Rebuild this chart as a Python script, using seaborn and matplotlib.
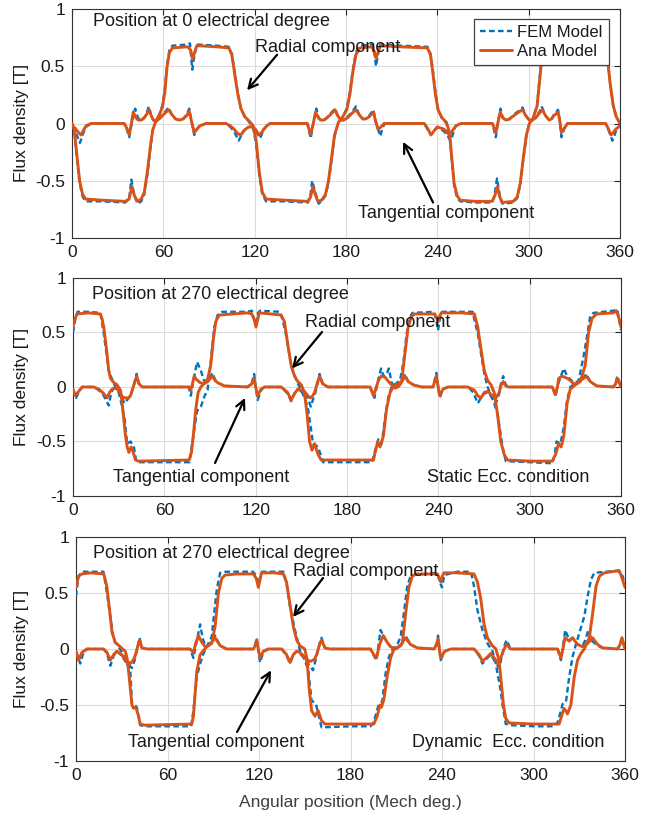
import matplotlib
matplotlib.use("Agg")
import matplotlib.pyplot as plt
from matplotlib.lines import Line2D
import seaborn as sns

# ---------------- data : (angle deg, flux density T) ----------------
# Panel 1 : Position at 0 electrical degree
p1_ana_rad = [(0,0.0),(1.5,-0.05),(3,-0.25),(5,-0.5),(7,-0.62),(9,-0.66),(20,-0.67),(35,-0.68),(37.5,-0.66),(39.4,-0.55),(41,-0.63),(43,-0.68),(45.5,-0.66),(47.5,-0.6),(49.5,-0.42),(51.5,-0.2),(53,-0.06),(55,0.02),(57.5,0.08),(59.5,0.15),(61,0.28),(62.5,0.5),(64,0.62),(66,0.66),(76,0.67),(78,0.64),(79.2,0.56),(80.5,0.62),(82,0.68),(95,0.67),(103,0.66),(105,0.6),(107,0.42),(109,0.25),(111,0.13),(113.5,0.06),(116.5,0.02),(119,-0.02),(121,-0.15),(123,-0.42),(125,-0.6),(127.5,-0.66),(140,-0.67),(155,-0.68),(156.8,-0.64),(158.2,-0.55),(159.8,-0.62),(161.5,-0.68),(164,-0.67),(166.5,-0.62),(168.5,-0.5),(170.5,-0.3),(172.5,-0.1),(175,0.01),(177.5,0.05),(180.5,0.12),(182.5,0.25),(184.5,0.45),(186.5,0.6),(189,0.66),(197,0.67),(198.5,0.63),(199.7,0.57),(201,0.62),(202.5,0.68),(215,0.67),(233.5,0.66),(235.5,0.6),(237,0.45),(238.8,0.25),(240.5,0.12),(243,0.05),(246,0.01),(248,-0.08),(249.5,-0.3),(251,-0.52),(253,-0.63),(255,-0.67),(265,-0.68),(276,-0.68),(277.8,-0.63),(279.5,-0.55),(281,-0.64),(282.5,-0.69),(290,-0.68),(292.5,-0.64),(294.5,-0.52),(296.5,-0.3),(298.5,-0.1),(300.5,0.0),(303,0.05),(305.5,0.15),(307,0.35),(308.5,0.55),(310.5,0.65),(313,0.67),(317,0.67),(318.5,0.62),(319.5,0.57),(321,0.63),(322.5,0.68),(340,0.67),(350,0.66),(351.7,0.58),(353.5,0.35),(355.5,0.16),(357.5,0.06),(360,0.0)]
p1_fem_rad = [(0,0.0),(1.5,-0.06),(3,-0.28),(5,-0.52),(7,-0.64),(9,-0.68),(20,-0.68),(35,-0.69),(37.5,-0.66),(39.0,-0.49),(40.8,-0.62),(43,-0.7),(45.5,-0.68),(47.5,-0.62),(49.5,-0.45),(51.5,-0.22),(53,-0.06),(55,0.02),(57.5,0.08),(59.5,0.16),(61,0.3),(62.5,0.52),(64,0.64),(66,0.68),(76,0.69),(77.5,0.7),(79.0,0.47),(80.5,0.6),(82,0.69),(95,0.68),(103,0.67),(105,0.61),(107,0.44),(109,0.26),(111,0.13),(113.5,0.06),(116.5,0.01),(119,-0.04),(121,-0.18),(123,-0.45),(125,-0.62),(127.5,-0.68),(140,-0.68),(155,-0.69),(156.5,-0.64),(157.8,-0.5),(159.8,-0.6),(162,-0.7),(164,-0.68),(166.5,-0.63),(168.5,-0.52),(170.5,-0.32),(172.5,-0.11),(175,0.01),(177.5,0.05),(180.5,0.13),(182.5,0.27),(184.5,0.47),(186.5,0.62),(189,0.68),(197,0.69),(198.3,0.66),(199.7,0.5),(201,0.6),(202.5,0.69),(215,0.68),(233.5,0.67),(235.5,0.61),(237,0.47),(238.8,0.27),(240.5,0.12),(243,0.05),(246,0.0),(248,-0.1),(249.5,-0.32),(251,-0.54),(253,-0.65),(255,-0.68),(265,-0.69),(276,-0.69),(277.5,-0.63),(279.2,-0.48),(281,-0.63),(282.8,-0.7),(290,-0.69),(292.5,-0.65),(294.5,-0.53),(296.5,-0.31),(298.5,-0.1),(300.5,0.0),(303,0.05),(305.5,0.16),(307,0.37),(308.5,0.57),(310.5,0.67),(313,0.68),(317,0.68),(318.3,0.6),(319.5,0.52),(321,0.62),(322.5,0.69),(340,0.68),(350,0.67),(351.7,0.59),(353.5,0.36),(355.5,0.16),(357.5,0.06),(360,0.0)]
p1_ana_tan = [(0,-0.02),(2,-0.04),(3.7,-0.07),(5.9,-0.1),(7.5,-0.06),(9.2,-0.02),(12.5,0.0),(34.3,0.0),(36,-0.04),(37.6,-0.1),(39,0.0),(40.2,0.1),(42,0.05),(43.5,0.03),(45.5,0.03),(47.5,0.05),(49.5,0.09),(50.7,0.12),(52,0.07),(53.4,0.03),(55.5,0.02),(58,0.05),(61,0.09),(63.5,0.12),(65.5,0.08),(68,0.04),(70.5,0.03),(73,0.04),(75.5,0.07),(77,0.11),(78.5,0.02),(80.3,-0.08),(82,-0.05),(84,-0.02),(88,0.0),(101,0.0),(104,-0.02),(106.5,-0.05),(109,-0.09),(111,-0.1),(112.5,-0.07),(114,-0.05),(116,-0.03),(118.5,-0.03),(120.5,-0.05),(123,-0.1),(124.5,-0.08),(126,-0.05),(128,-0.02),(130,0.0),(154.6,0.0),(156.8,-0.1),(158.5,0.0),(160,0.1),(161.8,0.05),(163.4,0.03),(165.5,0.03),(167.5,0.05),(170,0.08),(172.8,0.12),(174.5,0.07),(176.5,0.03),(178.5,0.03),(181,0.05),(184,0.09),(186.6,0.12),(188.5,0.08),(191,0.04),(193,0.04),(195.3,0.06),(198,0.1),(199.5,0.02),(201,-0.05),(203,-0.03),(205,0.0),(231.4,0.0),(233.5,-0.04),(235.8,-0.1),(237.5,-0.07),(240,-0.03),(242.3,-0.04),(244.5,-0.05),(247.8,-0.1),(249.5,-0.07),(252.2,-0.02),(255.5,0.0),(276.2,0.0),(278.4,-0.08),(280,0.02),(281.3,0.1),(283,0.05),(285,0.03),(287.5,0.04),(290.4,0.07),(293.5,0.1),(296,0.12),(298,0.07),(300.3,0.03),(302.5,0.03),(304.7,0.05),(307,0.09),(309,0.12),(311,0.07),(313.4,0.03),(315,0.04),(316.7,0.07),(319.3,0.1),(320.5,0.02),(321.5,-0.08),(323.5,-0.04),(325.5,0.0),(350.6,0.0),(352.5,-0.05),(354,-0.1),(355.5,-0.08),(357.2,-0.05),(360,-0.02)]
p1_fem_tan = [(0,-0.02),(2,-0.06),(3.7,-0.12),(5.2,-0.17),(7.5,-0.08),(9.2,-0.03),(12.5,0.0),(34.3,0.0),(36,-0.05),(37.6,-0.12),(39.5,0.02),(41.5,0.13),(43,0.06),(44.5,0.03),(46,0.03),(48,0.06),(49.5,0.11),(50.5,0.15),(52,0.07),(53.4,0.03),(55.5,0.02),(58,0.05),(61,0.1),(63.5,0.14),(65.5,0.08),(68,0.04),(70.5,0.03),(73,0.04),(75.5,0.08),(77,0.13),(78.5,0.02),(80.3,-0.1),(82,-0.05),(84,-0.02),(88,0.0),(101,0.0),(104,-0.03),(106.5,-0.07),(109.5,-0.15),(111,-0.11),(112.5,-0.07),(114,-0.05),(116,-0.03),(118.5,-0.03),(120.5,-0.06),(123.5,-0.13),(124.8,-0.09),(126,-0.05),(128,-0.02),(130,0.0),(154.6,0.0),(156.8,-0.13),(158.5,0.0),(160.5,0.13),(162,0.05),(163.4,0.03),(165.5,0.03),(167.5,0.05),(170,0.09),(172.8,0.13),(174.5,0.07),(176.5,0.03),(178.5,0.03),(181,0.06),(184,0.1),(186.6,0.15),(188.5,0.08),(191,0.04),(193,0.04),(195.3,0.07),(198,0.12),(199.5,0.02),(202.5,-0.11),(204,-0.04),(205.5,0.0),(231.4,0.0),(233.5,-0.05),(235.8,-0.1),(237.5,-0.07),(240,-0.03),(242.3,-0.05),(244.5,-0.07),(248.9,-0.15),(250.5,-0.08),(252.2,-0.02),(255.5,0.0),(276.2,0.0),(278.4,-0.12),(280,0.02),(281.5,0.13),(283,0.05),(285,0.03),(287.5,0.04),(290.4,0.08),(293.5,0.11),(296,0.14),(298,0.07),(300.3,0.03),(302.5,0.03),(304.7,0.06),(307,0.1),(308.5,0.15),(311,0.07),(313.4,0.03),(315,0.04),(316.7,0.08),(319.3,0.12),(320.5,0.02),(321.5,-0.12),(323.5,-0.04),(325.5,0.0),(350.6,0.0),(352.5,-0.06),(355,-0.15),(356.5,-0.1),(357.5,-0.06),(360,-0.02)]

# Panel 2 : Position at 270 electrical degree, static eccentricity
p2_ana_rad = [(0,0.55),(1.2,0.62),(2.6,0.67),(10,0.68),(18,0.67),(19.2,0.62),(20.2,0.55),(22,0.35),(23.5,0.15),(24.6,0.08),(26.8,0.04),(29,0.02),(31.2,-0.03),(32.3,-0.15),(33.4,-0.3),(34.5,-0.45),(35.6,-0.55),(36.7,-0.6),(38.2,-0.55),(39.6,-0.6),(41,-0.67),(43,-0.68),(76.3,-0.67),(77.8,-0.6),(79,-0.45),(80.7,-0.2),(82.2,-0.05),(84,0.0),(86,0.03),(88.4,0.07),(90.5,0.2),(92.3,0.45),(93.8,0.6),(96,0.66),(105,0.67),(114.7,0.68),(117.5,0.67),(119,0.62),(120.2,0.55),(121.3,0.62),(122.4,0.68),(130,0.67),(136.7,0.66),(138.9,0.6),(141,0.4),(143.3,0.2),(145.5,0.1),(147.7,0.05),(150,0.02),(152,-0.05),(153.8,-0.25),(155.4,-0.5),(157,-0.58),(158.7,-0.52),(161,-0.62),(163,-0.67),(180,-0.67),(197.4,-0.67),(198.5,-0.6),(200.2,-0.5),(201.7,-0.55),(203.9,-0.45),(206,-0.2),(208.3,-0.05),(210.4,0.0),(213.7,0.03),(215.9,0.05),(218,0.3),(220.2,0.55),(222.4,0.65),(224.6,0.67),(237.6,0.67),(238.8,0.64),(239.8,0.6),(240.9,0.65),(242,0.68),(255,0.68),(263.7,0.67),(265.9,0.55),(268,0.35),(270.2,0.15),(272.4,0.06),(274.6,0.02),(276.7,-0.05),(278.9,-0.25),(281,-0.5),(283.3,-0.62),(285.4,-0.67),(300,-0.68),(314.8,-0.68),(317,-0.62),(319,-0.52),(320.7,-0.55),(322.4,-0.45),(324.6,-0.15),(326.7,-0.02),(330,0.02),(333.3,0.05),(336.5,0.2),(338.7,0.5),(341,0.63),(344,0.67),(355,0.68),(357,0.7),(358.9,0.62),(360,0.55)]
p2_fem_rad = [(0,0.5),(1.5,0.62),(3,0.69),(10,0.69),(18,0.68),(20.2,0.49),(23.5,0.15),(26.8,0.03),(30,-0.05),(32.3,-0.18),(34,-0.3),(35.6,-0.52),(37.8,-0.5),(40,-0.55),(41.5,-0.68),(44,-0.69),(76.5,-0.69),(78,-0.55),(79.6,-0.4),(81.5,-0.22),(84,-0.18),(86.5,-0.08),(88.4,-0.03),(90.6,0.25),(92.8,0.55),(95,0.66),(98,0.69),(114,0.69),(117.5,0.7),(119.3,0.6),(120.2,0.58),(121.5,0.68),(123,0.7),(136,0.69),(138,0.6),(140.2,0.46),(143.5,0.18),(147.8,0.03),(152.2,-0.1),(154.4,-0.2),(156.2,-0.37),(157.7,-0.52),(161,-0.55),(164.3,-0.69),(180,-0.69),(196.5,-0.69),(198.5,-0.58),(200.6,-0.48),(202.8,-0.52),(205,-0.28),(207.2,-0.09),(209.3,0.0),(214.8,0.06),(217,0.22),(219.1,0.48),(221.3,0.64),(223,0.68),(237,0.69),(238.5,0.62),(239.8,0.52),(241,0.62),(242.5,0.69),(262.5,0.69),(265.9,0.49),(268,0.31),(270.2,0.12),(272.4,0.0),(274.6,-0.08),(276.7,-0.15),(278.9,-0.25),(280.6,-0.4),(282.2,-0.55),(284.3,-0.68),(300,-0.69),(314.8,-0.7),(316.5,-0.62),(317.6,-0.5),(320.2,-0.52),(322.4,-0.37),(324.6,-0.12),(326.7,0.0),(332.2,0.06),(335.4,0.28),(337.6,0.46),(339.8,0.65),(342,0.68),(355,0.7),(357.6,0.71),(360,0.52)]
p2_ana_tan = [(0,-0.02),(1.5,-0.08),(3.7,-0.04),(6,0.0),(13.6,0.0),(17,-0.02),(20.2,-0.06),(22.4,-0.1),(24,-0.05),(25.7,-0.02),(28,-0.01),(30,-0.03),(32.3,-0.09),(34.5,-0.1),(36.3,-0.1),(37.8,-0.08),(40,0.02),(41.8,0.1),(43.3,0.03),(45.5,0.0),(76.3,0.0),(77.4,-0.03),(78.5,0.03),(79.6,0.1),(81,0.07),(83.5,0.04),(86,0.03),(88.5,0.05),(91.6,0.1),(93.3,0.06),(95,0.04),(99.4,0.01),(114.7,0.0),(117.5,0.03),(119,0.08),(120,0.0),(121.3,-0.08),(123.5,-0.02),(125.7,0.0),(136.7,0.0),(141,-0.05),(143.3,-0.12),(145.5,-0.06),(147.7,-0.02),(150,-0.03),(152,-0.04),(154.3,-0.08),(156,-0.1),(157.5,-0.08),(159,-0.04),(160.5,0.04),(162,0.1),(164,0.03),(167.5,0.0),(195.2,0.0),(197.4,-0.08),(199,-0.01),(200.7,0.06),(202.4,0.1),(205,0.09),(207.2,0.05),(209.3,0.02),(211.5,-0.01),(213.5,0.0),(214.8,0.02),(216.5,0.06),(218,0.1),(220.2,0.05),(223.5,0.02),(229,0.0),(236.5,0.0),(238.7,0.1),(239.8,0.01),(240.9,-0.08),(243,-0.02),(246.3,0.0),(259.4,0.0),(263.7,-0.03),(265.9,-0.08),(268,-0.1),(270.2,-0.05),(272.4,-0.04),(275.6,-0.08),(277.8,-0.1),(280,-0.05),(281,0.01),(282.6,0.05),(284.3,0.01),(286,0.0),(314.8,0.0),(317,-0.07),(318.2,0.0),(319.1,0.08),(321.3,0.1),(324.6,0.08),(326.7,0.06),(328.9,0.03),(331,0.03),(333.3,0.06),(335.5,0.08),(337.2,0.1),(339.8,0.05),(344,0.01),(355,0.0),(356.5,0.03),(357.6,0.08),(358.8,0.04),(360,0.0)]
p2_fem_tan = [(0,-0.02),(2,-0.1),(3.7,-0.05),(6,0.0),(13.6,0.0),(17,-0.03),(20.2,-0.08),(23.5,-0.17),(25,-0.06),(26.5,-0.01),(29,-0.02),(31,-0.06),(33.8,-0.15),(35.5,-0.12),(37.8,-0.08),(40,0.02),(41.8,0.12),(43.3,0.03),(45.5,0.0),(76,0.0),(77.4,-0.08),(79,0.05),(81.5,0.23),(84,0.15),(86,0.06),(88.5,0.05),(91.6,0.13),(93.3,0.07),(95,0.04),(99.4,0.01),(114.7,0.0),(117.5,0.04),(119,0.12),(120,0.0),(121.3,-0.12),(123.5,-0.03),(125.7,0.0),(136.7,0.0),(141,-0.06),(143.3,-0.13),(145.5,-0.06),(147.7,-0.02),(150,-0.04),(152,-0.06),(154.3,-0.1),(156.2,-0.18),(158,-0.1),(159.5,-0.04),(161,0.05),(162,0.12),(164,0.03),(167.5,0.0),(195.2,0.0),(198,-0.1),(199.5,0.0),(200.7,0.08),(202.4,0.17),(204,0.1),(206,0.12),(207.5,0.17),(209.3,0.04),(211.5,0.0),(214.8,0.03),(216.5,0.07),(218,0.12),(220.2,0.05),(223.5,0.02),(229,0.0),(236.5,0.0),(238.7,0.13),(239.8,0.01),(240.9,-0.1),(243,-0.02),(246.3,0.0),(259.4,0.0),(263,-0.05),(265.9,-0.15),(268,-0.1),(270.2,-0.06),(272.4,-0.05),(275.6,-0.1),(277.8,-0.15),(280,-0.06),(281,0.02),(282.6,0.1),(284.3,0.02),(286,0.0),(314.8,0.0),(317,-0.08),(318.5,0.02),(320,0.08),(322.4,0.17),(324.6,0.1),(326.7,0.07),(328.9,0.04),(331,0.03),(333.3,0.06),(335.5,0.09),(337.2,0.12),(339.8,0.05),(344,0.01),(355,0.0),(356.5,0.04),(357.6,0.1),(358.8,0.05),(360,0.0)]

# Panel 3 : Position at 270 electrical degree, dynamic eccentricity
p3_ana_rad = [(0,0.55),(1.7,0.65),(3.9,0.67),(10,0.68),(18.1,0.67),(19.2,0.62),(20.3,0.55),(22,0.35),(23.6,0.15),(25.7,0.06),(29,0.02),(32.3,-0.02),(33.5,-0.08),(34.5,-0.2),(35.6,-0.35),(36.7,-0.5),(37.7,-0.53),(38.6,-0.52),(39.5,-0.53),(41,-0.6),(42.1,-0.67),(45,-0.68),(75.9,-0.67),(77,-0.6),(78.1,-0.4),(79.2,-0.2),(81.4,-0.05),(85.7,0.02),(89,0.05),(91.2,0.2),(93.4,0.5),(95.6,0.63),(97.7,0.66),(105,0.67),(116.3,0.67),(118.2,0.63),(119.6,0.55),(120.7,0.62),(121.7,0.68),(130,0.68),(136,0.67),(138,0.6),(140.3,0.4),(142.5,0.2),(144.7,0.08),(146.8,0.03),(150,0.0),(151.6,-0.1),(152.9,-0.35),(154.5,-0.55),(156.7,-0.6),(158.8,-0.55),(161,-0.64),(163.2,-0.67),(180,-0.67),(195.3,-0.67),(197.5,-0.6),(199.3,-0.5),(200.3,-0.52),(201.9,-0.45),(204,-0.25),(206.3,-0.08),(208.5,0.0),(211.8,0.02),(214,0.05),(216,0.3),(218.3,0.55),(220.5,0.65),(222.7,0.67),(237,0.67),(238.2,0.63),(239.1,0.6),(240.2,0.65),(241.3,0.68),(250,0.68),(261,0.67),(263.2,0.6),(265.4,0.45),(267.6,0.22),(269.8,0.1),(273,0.03),(275.3,0.0),(277.4,-0.1),(278.5,-0.25),(280.3,-0.5),(281.8,-0.62),(284,-0.66),(300,-0.67),(316.8,-0.67),(318.4,-0.6),(320,-0.53),(321.5,-0.56),(322.3,-0.58),(324.5,-0.5),(326.7,-0.25),(328.9,-0.1),(331.1,-0.04),(333.3,0.0),(336.6,0.1),(338.8,0.32),(341,0.56),(343.2,0.65),(346.4,0.68),(356.2,0.7),(358.4,0.62),(360,0.55)]
p3_fem_rad = [(0,0.47),(1.7,0.65),(3.9,0.69),(10,0.69),(18,0.69),(20.3,0.5),(22.5,0.29),(24.7,0.08),(27.9,0.02),(31,-0.05),(33.4,-0.13),(35.6,-0.19),(36.7,-0.49),(38.2,-0.5),(39.9,-0.52),(42.1,-0.68),(45,-0.69),(75.5,-0.69),(77,-0.55),(79.2,-0.25),(81.4,-0.13),(83.6,-0.04),(86.8,0.05),(89,0.11),(90.6,0.32),(92.3,0.53),(94.5,0.68),(98,0.69),(116,0.69),(118,0.66),(119.5,0.58),(120.8,0.64),(122,0.69),(136,0.69),(138.1,0.58),(140.3,0.38),(143.6,0.17),(146.8,-0.01),(150.1,-0.1),(152.3,-0.19),(154.5,-0.46),(157.3,-0.49),(161,-0.7),(180,-0.69),(193.1,-0.69),(195.3,-0.65),(198.6,-0.49),(200.8,-0.47),(203,-0.22),(205.2,-0.07),(207.4,-0.01),(210.7,0.04),(212.9,0.11),(215,0.32),(217.2,0.56),(219.4,0.65),(221.6,0.66),(237,0.68),(238.5,0.6),(240,0.55),(241.5,0.66),(250,0.69),(259,0.69),(261,0.56),(263.2,0.35),(266.5,0.17),(269.8,0.05),(273.1,-0.02),(275.3,-0.13),(276.4,-0.22),(278.1,-0.34),(279.6,-0.49),(281.8,-0.67),(285.1,-0.68),(300,-0.69),(313.6,-0.69),(316,-0.65),(318,-0.55),(319.1,-0.49),(321.3,-0.47),(323.4,-0.25),(325.6,-0.07),(327.8,0.04),(330,0.14),(333.3,0.29),(335.5,0.47),(337.7,0.62),(339.9,0.68),(355.2,0.7),(358.5,0.65),(360,0.56)]
p3_ana_tan = [(0,-0.02),(1.7,-0.1),(3.9,-0.03),(7.2,0.0),(18.1,0.0),(20.3,-0.03),(22.5,-0.1),(24.7,-0.05),(26.8,-0.02),(30.1,-0.05),(32.3,-0.1),(35.6,-0.13),(37.5,-0.1),(38.8,-0.06),(40.4,0.02),(41.7,0.08),(43.2,0.01),(46.5,0.0),(74.8,0.0),(77,-0.03),(78.5,0.05),(80.3,0.12),(82.5,0.06),(84.7,0.02),(86.8,0.03),(89,0.06),(91.2,0.1),(94.5,0.03),(98.8,0.0),(116.3,0.0),(117.5,0.03),(118.5,0.08),(119.5,0.0),(120.7,-0.08),(122.8,-0.02),(126,0.0),(134.9,0.0),(138.1,-0.05),(140.3,-0.12),(142.5,-0.05),(144.7,-0.02),(146.8,-0.03),(149,-0.06),(151.5,-0.1),(154,-0.11),(156.5,-0.09),(157.8,-0.05),(160,0.05),(161,0.08),(163.2,0.01),(166.5,0.0),(193.1,0.0),(195.3,-0.05),(197,-0.08),(199.3,0.05),(201.5,0.12),(204,0.06),(206.3,0.02),(209.6,0.0),(212.8,0.03),(216,0.1),(219.4,0.04),(223.8,0.01),(234.8,0.0),(236.5,0.04),(237.4,0.09),(239.1,-0.08),(241.8,-0.02),(245.7,0.0),(261,0.0),(264.3,-0.05),(266.5,-0.11),(269.8,-0.07),(272,-0.04),(274.2,-0.08),(276.4,-0.12),(278.5,-0.08),(280.7,0.0),(282.3,0.04),(285,0.0),(315.8,0.0),(318,-0.08),(319.3,0.0),(320.6,0.1),(323.4,0.07),(325.6,0.1),(328.9,0.04),(332.2,0.02),(335.5,0.05),(338.8,0.1),(342,0.04),(345.3,0.01),(355.3,0.0),(356.8,0.04),(358,0.1),(359,0.05),(360,0.0)]
p3_fem_tan = [(0,-0.02),(1.5,-0.08),(2.8,-0.13),(4.5,-0.05),(7.2,0.0),(18.1,0.0),(20.3,-0.04),(22.5,-0.15),(24.7,-0.06),(26.8,-0.02),(30.1,-0.06),(32.3,-0.11),(34.5,-0.14),(36.7,-0.17),(38.5,-0.1),(40.4,0.02),(41.7,0.1),(43.2,0.01),(46.5,0.0),(74.8,0.0),(77,-0.08),(79,0.06),(81.4,0.22),(83,0.1),(84.7,0.03),(86.8,0.03),(89,0.07),(91.2,0.12),(94.5,0.03),(98.8,0.0),(116.3,0.0),(117.5,0.04),(118.5,0.1),(119.5,0.0),(120.7,-0.12),(122.8,-0.03),(126,0.0),(134.9,0.0),(138.1,-0.06),(140.3,-0.13),(142.5,-0.05),(144.7,-0.02),(146.8,-0.04),(149,-0.07),(151.5,-0.12),(153.5,-0.15),(155.4,-0.19),(157.5,-0.08),(159.5,0.04),(161,0.1),(163.2,0.01),(166.5,0.0),(193.1,0.0),(195.3,-0.06),(197,-0.1),(198.5,0.05),(199.7,0.17),(201.5,0.12),(204,0.06),(206.3,0.02),(209.6,0.0),(212.8,0.04),(216,0.12),(219.4,0.04),(223.8,0.01),(234.8,0.0),(236.5,0.05),(237.4,0.12),(239.1,-0.1),(241.8,-0.02),(245.7,0.0),(261,0.0),(264.3,-0.06),(266.5,-0.13),(269.8,-0.08),(272,-0.05),(274.2,-0.1),(277.5,-0.17),(279,-0.08),(280.7,0.02),(282.3,0.08),(285,0.0),(315.8,0.0),(318,-0.1),(319.3,0.02),(320.8,0.17),(323.4,0.08),(325.6,0.1),(328.9,0.04),(332.2,0.03),(334,0.08),(335.9,0.17),(338.5,0.07),(342,0.03),(345.3,0.01),(355.3,0.0),(356.8,0.05),(358,0.1),(359,0.05),(360,0.0)]

x_ticks = [0, 60, 120, 180, 240, 300, 360]
y_ticks = [-1, -0.5, 0, 0.5, 1]
y_tick_labels = ["-1", "-0.5", "0", "0.5", "1"]
legend_labels = ["FEM Model", "Ana Model"]

# ---------------- style ----------------
sns.set_theme(style="white")
plt.rcParams["font.family"] = ["Liberation Sans", "DejaVu Sans"]
plt.rcParams["axes.unicode_minus"] = False

FEM_C = "#0072BD"
ANA_C = "#D95319"
TXT = "#1a1a1a"
FEM_LS = (0, (2.4, 1.4))
FEM_LW = 1.7
ANA_LW = 2.1

W, H = 647, 816
fig = plt.figure(figsize=(W / 100, H / 100), dpi=100)


def px_axes(l, t, r, b):
    return fig.add_axes([l / W, 1 - b / H, (r - l) / W, (b - t) / H])


ax1 = px_axes(72, 9, 620, 238)
ax2 = px_axes(73, 278, 621, 496)
ax3 = px_axes(76, 537, 625, 761)

panels = [
    (ax1, p1_fem_rad, p1_fem_tan, p1_ana_rad, p1_ana_tan),
    (ax2, p2_fem_rad, p2_fem_tan, p2_ana_rad, p2_ana_tan),
    (ax3, p3_fem_rad, p3_fem_tan, p3_ana_rad, p3_ana_tan),
]


def draw(ax, pairs, **kw):
    xs = [p[0] for p in pairs]
    ys = [p[1] for p in pairs]
    sns.lineplot(x=xs, y=ys, ax=ax, estimator=None, sort=False, legend=False, **kw)


for ax, frad, ftan, arad, atan in panels:
    for ser in (frad, ftan):
        draw(ax, ser, color=FEM_C, lw=FEM_LW, linestyle=FEM_LS, zorder=3)
    for ser in (arad, atan):
        draw(ax, ser, color=ANA_C, lw=ANA_LW, zorder=4,
             solid_joinstyle="round", solid_capstyle="round")
    ax.set_xlim(0, 360)
    ax.set_ylim(-1, 1)
    ax.set_xticks(x_ticks)
    ax.set_yticks(y_ticks)
    ax.set_yticklabels(y_tick_labels)
    ax.grid(True, color="#dcdcdc", lw=0.8, zorder=0)
    ax.set_axisbelow(True)
    ax.tick_params(direction="in", length=4, width=0.8, top=True, right=True,
                   labelsize=12.5, colors="#262626", pad=5)
    ax.tick_params(axis="both", labelcolor=TXT)
    for s in ax.spines.values():
        s.set_color("#333333")
        s.set_linewidth(0.8)
    ax.set_xlabel("")
    ax.set_ylabel("")

TFS = 13
arrow_kw = dict(arrowstyle="->", color="black", lw=1.6, mutation_scale=16,
                shrinkA=0, shrinkB=0)

# Panel 1 annotations
ax1.text(13.8, 0.895, "Position at 0 electrical degree", fontsize=TFS, color=TXT,
         ha="left", va="center", zorder=6)
ax1.text(120.2, 0.668, "Radial component", fontsize=TFS, color=TXT,
         ha="left", va="center", zorder=6)
ax1.annotate("", xy=(115, 0.29), xytext=(134.7, 0.6), arrowprops=arrow_kw, zorder=6)
ax1.text(187.9, -0.782, "Tangential component", fontsize=TFS, color=TXT,
         ha="left", va="center", zorder=6)
ax1.annotate("", xy=(217.5, -0.16), xytext=(237.2, -0.69), arrowprops=arrow_kw, zorder=6)

handles = [Line2D([], [], color=FEM_C, lw=FEM_LW, linestyle=FEM_LS),
           Line2D([], [], color=ANA_C, lw=ANA_LW)]
leg = ax1.legend(handles, legend_labels, loc="upper right",
                 bbox_to_anchor=(0.9795, 0.958), fontsize=12, frameon=True,
                 fancybox=False, framealpha=1, edgecolor="#404040",
                 handlelength=1.9, handletextpad=0.3, borderpad=0.38,
                 labelspacing=0.22, borderaxespad=0)
leg.get_frame().set_linewidth(0.9)
for t in leg.get_texts():
    t.set_color(TXT)
leg.set_zorder(10)

# Panel 2 annotations
ax2.text(12.5, 0.853, "Position at 270 electrical degree", fontsize=TFS, color=TXT,
         ha="left", va="center", zorder=6)
ax2.text(152.4, 0.596, "Radial component", fontsize=TFS, color=TXT,
         ha="left", va="center", zorder=6)
ax2.annotate("", xy=(143.9, 0.17), xytext=(163.6, 0.505), arrowprops=arrow_kw, zorder=6)
ax2.text(26.3, -0.826, "Tangential component", fontsize=TFS, color=TXT,
         ha="left", va="center", zorder=6)
ax2.annotate("", xy=(113, -0.1), xytext=(93.3, -0.697), arrowprops=arrow_kw, zorder=6)
ax2.text(232.6, -0.826, "Static Ecc. condition", fontsize=TFS, color=TXT,
         ha="left", va="center", zorder=6)

# Panel 3 annotations
ax3.text(11.1, 0.857, "Position at 270 electrical degree", fontsize=TFS, color=TXT,
         ha="left", va="center", zorder=6)
ax3.text(142.3, 0.6875, "Radial component", fontsize=TFS, color=TXT,
         ha="left", va="center", zorder=6)
ax3.annotate("", xy=(142.3, 0.286), xytext=(162, 0.634), arrowprops=arrow_kw, zorder=6)
ax3.text(34.1, -0.839, "Tangential component", fontsize=TFS, color=TXT,
         ha="left", va="center", zorder=6)
ax3.annotate("", xy=(127.9, -0.19), xytext=(105.6, -0.741), arrowprops=arrow_kw, zorder=6)
ax3.text(220.3, -0.839, "Dynamic  Ecc. condition", fontsize=TFS, color=TXT,
         ha="left", va="center", zorder=6)

# axis labels
for yc in [123, 387, 649]:
    fig.text(22 / W, 1 - yc / H, "Flux density [T]", rotation=90, fontsize=12.5,
             color=TXT, ha="center", va="center")
fig.text(350 / W, 1 - 803 / H, "Angular position (Mech deg.)", fontsize=12.5,
         color="#404040", ha="center", va="center")

fig.savefig("out.png", dpi=100, facecolor="white")
